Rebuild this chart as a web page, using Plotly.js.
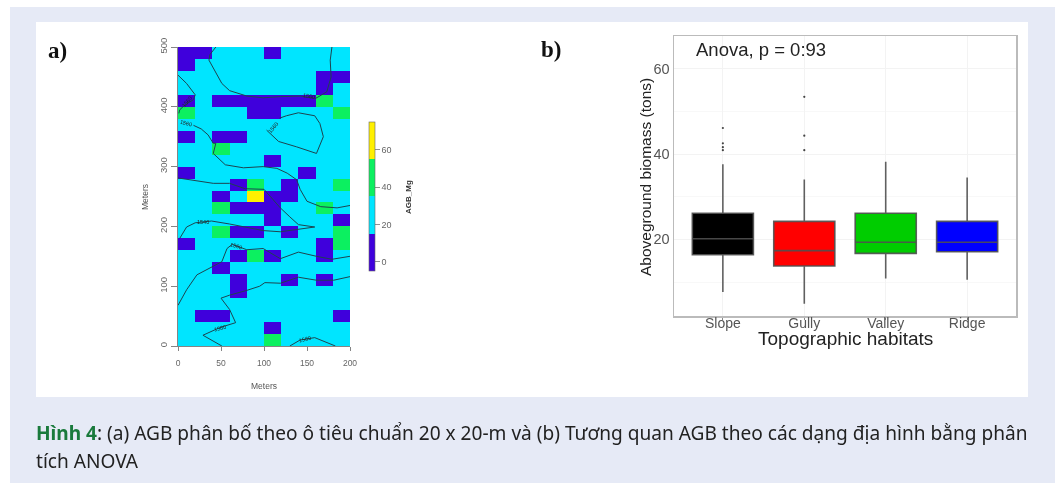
<!DOCTYPE html>
<html><head><meta charset="utf-8">
<script src="https://cdn.plot.ly/plotly-3.0.1.min.js"></script>
<style>html,body{margin:0;padding:0;background:#fff}#c{width:1060px;height:483px}.cartesianlayer{filter:blur(0.35px)}</style>
</head><body><div id="c"></div>
<script>
// Panel a: grid of 20 x 20 m cells, bottom row first
var cellX = [10,30,50,70,90,110,130,150,170,190];
var cellY = [10,30,50,70,90,110,130,150,170,190,210,230,250,270,290,310,330,350,370,390,410,430,450,470,490];
var P=5, C=25, G=45, Y=65;
var agb = [
 [C,C,C,C,C,G,C,C,C,C],
 [C,C,C,C,C,P,C,C,C,C],
 [C,P,P,C,C,C,C,C,C,P],
 [C,C,C,C,C,C,C,C,C,C],
 [C,C,C,P,C,C,C,C,C,C],
 [C,C,C,P,C,C,P,C,P,C],
 [C,C,P,C,C,C,C,C,C,C],
 [C,C,C,P,G,P,C,C,P,C],
 [P,C,C,C,C,C,C,C,P,G],
 [C,C,G,P,P,C,P,C,C,G],
 [C,C,C,C,C,P,C,C,C,P],
 [C,C,G,P,P,P,C,C,G,C],
 [C,C,P,C,Y,P,P,C,C,C],
 [C,C,C,P,G,C,P,C,C,G],
 [P,C,C,C,C,C,C,P,C,C],
 [C,C,C,C,C,P,C,C,C,C],
 [C,C,G,C,C,C,C,C,C,C],
 [P,C,P,P,C,C,C,C,C,C],
 [C,C,C,C,C,C,C,C,C,C],
 [G,C,C,C,P,P,C,C,C,G],
 [P,C,P,P,P,P,P,P,G,C],
 [C,C,C,C,C,C,C,C,P,C],
 [C,C,C,C,C,C,C,C,P,P],
 [P,C,C,C,C,C,C,C,C,C],
 [P,P,C,C,C,P,C,C,C,C]
];
// Panel a: elevation contours
var contours = [
 {x:[44,37,36,43,51,60,80,99,119,142,160,173,178,177,179], y:[500,487,478,459,439,427,418,415,417,418,414,425,450,478,500]},
 {x:[0,10,20,18,8,2,1], y:[453,439,420,412,403,395,389]},
 {x:[18,27,35,41,44,41,55,76,99,115,127,138,142,150,166,185,200], y:[369,363,353,339,339,322,303,298,300,297,289,278,262,242,233,231,235]},
 {x:[103,117,138,161,169,165,159,140,126,118], y:[361,342,333,322,350,372,385,390,385,381]},
 {x:[0,22,41,60,78,100,110,119,130,140,159], y:[281,276,272,272,263,262,245,231,216,203,199]},
 {x:[2,10,20,39,60,76,99,119,138,159], y:[180,199,206,209,204,199,193,191,195,199]},
 {x:[0,10,22,39,51,57,63,80,99,119,140,161,179,200], y:[68,94,119,132,141,163,170,161,163,146,157,150,145,150]},
 {x:[200,181,161,140,119,101,95,80,60,50,60,67,49,29,51], y:[116,110,110,115,105,106,100,93,85,80,61,39,31,18,0]},
 {x:[130,142,159,183], y:[0,10,14,0]}
];
var contourLabelX = [9,10,152,110,29,68,49,148];
var contourLabelY = [373,408,418,365,208,167,30,11];
var contourLabelText = ['1560','1560','1560','1560','1540','1560','1580','1580'];
var contourLabelAngle = [15,-50,10,-50,0,15,-15,-15];
// Panel b
var habitats = ['Slope','Gully','Valley','Ridge'];
var habitatColors = ['#000000','#ff0000','#00cd00','#0000ff'];
var q1 = [16.4,13.75,16.7,17.1];
var median = [20.15,17.35,19.3,19.3];
var q3 = [26.1,24.2,26.1,24.2];
var lowFence = [7.65,4.9,10.8,10.5];
var highFence = [37.6,34,38.2,34.5];
var outlierHabitat = ['Slope','Slope','Slope','Slope','Gully','Gully','Gully'];
var outlierValue = [46.1,42.5,41.6,40.9,53.4,44.3,40.9];

var W=1060,H=483;
function px(x){return x/W;}
function py(y){return 1-y/H;}
var traces = [{
  type:'heatmap', x:cellX, y:cellY, z:agb, xaxis:'x', yaxis:'y',
  zmin:-5, zmax:75, hoverinfo:'skip',
  colorscale:[[0,'#3f00dc'],[0.25,'#3f00dc'],[0.25,'#00e5ff'],[0.5,'#00e5ff'],[0.5,'#0cf060'],[0.75,'#0cf060'],[0.75,'#fff000'],[1,'#fff000']],
  colorbar:{x:px(369),xanchor:'left',y:py(196.5),yanchor:'middle',lenmode:'pixels',len:149,thicknessmode:'pixels',thickness:6,
    xpad:0,ypad:0,outlinewidth:0.6,outlinecolor:'#666',tickmode:'array',tickvals:[0,20,40,60],ticktext:['0','20','40','60'],
    ticks:'outside',ticklen:5,tickcolor:'#777',tickwidth:0.8,tickfont:{family:'Liberation Sans',size:9,color:'#666'}}
}];
contours.forEach(function(c){
  traces.push({type:'scatter',mode:'lines',x:c.x,y:c.y,xaxis:'x',yaxis:'y',line:{color:'#1d4450',width:1},hoverinfo:'skip',showlegend:false});
});
habitats.forEach(function(h,i){
  traces.push({type:'box',x:[h],q1:[q1[i]],median:[median[i]],q3:[q3[i]],lowerfence:[lowFence[i]],upperfence:[highFence[i]],
    xaxis:'x2',yaxis:'y2',width:0.75,whiskerwidth:0,fillcolor:habitatColors[i],line:{color:'rgba(80,80,80,0.9)',width:1.6},boxpoints:false,showlegend:false,hoverinfo:'skip'});
});
traces.push({type:'scatter',mode:'markers',x:outlierHabitat,y:outlierValue,xaxis:'x2',yaxis:'y2',marker:{color:'#444',size:2.2},showlegend:false,hoverinfo:'skip'});

function note(text,x,y,size,color,family,angle,xanchor){
  return {text:text,xref:'paper',yref:'paper',x:px(x),y:py(y),xanchor:xanchor||'center',yanchor:'middle',textangle:angle||0,showarrow:false,borderpad:0,borderwidth:0,
    font:{family:family||'Liberation Sans',size:size,color:color}};
}
var annotations = [
 note('<b>a)</b>',48,50,23,'#111','Liberation Serif',0,'left'),
 note('<b>b)</b>',541,49,23,'#111','Liberation Serif',0,'left'),
 note('Meters',145,197,8.5,'#555',null,-90),
 note('Meters',264,386,8.5,'#555'),
 note('<b>AGB_Mg</b>',408,197,8,'#333',null,-90),
 note('Anova, p = 0:93',696,49,18.5,'#222',null,0,'left'),
 note('Aboveground biomass (tons)',645,177,15.5,'#222',null,-90),
 note('Topographic habitats',845,338,19,'#222'),
 note('<span style="color:#1a7a3c"><b>Hình 4</b></span>: (a) AGB phân bố theo ô tiêu chuẩn 20 x 20-m và (b) Tương quan AGB theo các dạng địa hình bằng phân',36,433,19.1,'#222','Noto Sans',0,'left'),
 note('tích ANOVA',36,461,19.1,'#222','Noto Sans',0,'left')
];
contourLabelText.forEach(function(t,i){
  annotations.push({text:t,xref:'x',yref:'y',x:contourLabelX[i],y:contourLabelY[i],xanchor:'center',yanchor:'middle',textangle:contourLabelAngle[i],showarrow:false,font:{family:'Liberation Sans',size:5.5,color:'#222'}});
});
var layout = {
  width:W,height:H,margin:{l:0,r:0,t:0,b:0},paper_bgcolor:'#ffffff',plot_bgcolor:'rgba(0,0,0,0)',showlegend:false,
  boxmode:'overlay',
  shapes:[
    {type:'rect',xref:'paper',yref:'paper',x0:px(10),x1:px(1055),y0:py(483),y1:py(7),fillcolor:'#e6eaf6',line:{width:0},layer:'below'},
    {type:'rect',xref:'paper',yref:'paper',x0:px(36),x1:px(1028),y0:py(397),y1:py(22),fillcolor:'#ffffff',line:{width:0},layer:'below'}
  ],
  annotations:annotations,
  xaxis:{domain:[px(178),px(350)],range:[0,200],tickvals:[0,50,100,150,200],ticks:'outside',ticklen:4,ticklabelstandoff:5,tickcolor:'#666',tickwidth:0.8,showline:true,linecolor:'#666',linewidth:0.8,showgrid:false,zeroline:false,tickfont:{family:'Liberation Sans',size:8.5,color:'#666'}},
  yaxis:{domain:[py(346),py(47)],range:[0,500],tickvals:[0,100,200,300,400,500],tickangle:-90,ticks:'outside',ticklen:6,tickcolor:'#666',tickwidth:0.8,showline:true,linecolor:'#666',linewidth:0.8,showgrid:false,zeroline:false,tickfont:{family:'Liberation Sans',size:9.5,color:'#666'}},
  xaxis2:{domain:[px(674),px(1016)],anchor:'y2',type:'category',categoryorder:'array',categoryarray:habitats,range:[-0.6,3.6],ticks:'outside',ticklen:2,tickcolor:'#888',ticklabelstandoff:-8,showline:true,mirror:true,linecolor:'#bbb',linewidth:1.5,showgrid:true,gridcolor:'#f3f3f3',gridwidth:1,zeroline:false,tickfont:{family:'Liberation Sans',size:14,color:'#555'}},
  yaxis2:{domain:[py(316),py(36)],anchor:'x2',range:[2.03,67.66],tickvals:[20,40,60],ticks:'',showline:true,mirror:true,linecolor:'#bbb',linewidth:1.5,showgrid:true,gridcolor:'#f3f3f3',gridwidth:1,zeroline:false,
    minor:{tickvals:[10,30,50],showgrid:true,gridcolor:'#f8f8f8',gridwidth:1,ticks:''},tickfont:{family:'Liberation Sans',size:14.5,color:'#555'}}
};
Plotly.newPlot('c',traces,layout,{displayModeBar:false,staticPlot:true});
</script></body></html>
